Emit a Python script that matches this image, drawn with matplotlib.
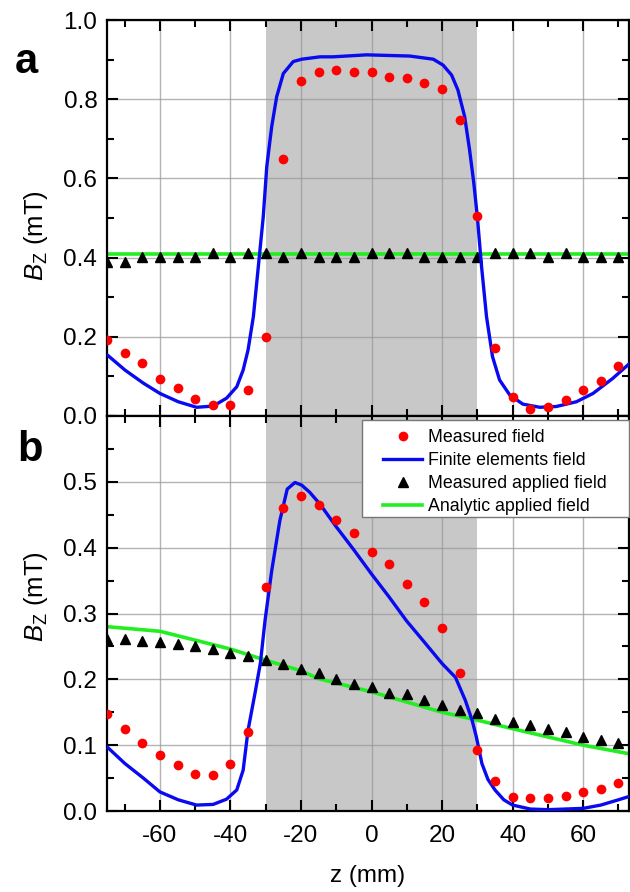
import matplotlib
matplotlib.use("Agg")
import matplotlib.pyplot as plt
from matplotlib.ticker import MultipleLocator, FormatStrFormatter
from matplotlib.patches import Rectangle

plt.rcParams['font.family'] = ['Liberation Sans', 'DejaVu Sans']
plt.rcParams['mathtext.fontset'] = 'custom'
plt.rcParams['mathtext.rm'] = 'Liberation Sans'
plt.rcParams['mathtext.it'] = 'Liberation Sans:italic'
plt.rcParams['axes.unicode_minus'] = False

# ---------------- data ----------------
z_meas = list(range(-75, 75, 5))

# Panel a
a_measured = [0.192, 0.160, 0.133, 0.093, 0.071, 0.044, 0.028, 0.028, 0.066, 0.199,
              0.649, 0.847, 0.869, 0.875, 0.869, 0.869, 0.857, 0.853, 0.842, 0.825,
              0.747, 0.506, 0.171, 0.049, 0.017, 0.023, 0.040, 0.066, 0.089, 0.126]
a_applied = [0.390, 0.390, 0.402, 0.402, 0.402, 0.402, 0.411, 0.402, 0.411, 0.411,
             0.402, 0.411, 0.402, 0.402, 0.402, 0.411, 0.411, 0.411, 0.402, 0.402,
             0.402, 0.402, 0.411, 0.411, 0.411, 0.402, 0.411, 0.402, 0.402, 0.402]
a_fe_z = [-74.9, -69.9, -64.7, -60.0, -54.8, -49.6, -44.9, -41.1, -38.2, -36.4, -35.0,
          -33.5, -32.1, -30.7, -29.7, -28.3, -26.9, -25.0, -22.2, -19.8, -14.6, -10.9,
          -1.4, 10.8, 17.5, 20.3, 22.7, 24.5, 26.4, 27.8, 29.0, 30.0, 31.2, 32.6, 34.3,
          36.3, 39.2, 42.9, 47.7, 52.4, 58.1, 62.8, 68.4, 73.2]
a_fe = [0.154, 0.116, 0.083, 0.057, 0.036, 0.022, 0.025, 0.045, 0.074, 0.116, 0.167,
        0.251, 0.377, 0.503, 0.630, 0.731, 0.806, 0.865, 0.895, 0.901, 0.907, 0.907,
        0.912, 0.909, 0.901, 0.886, 0.861, 0.823, 0.756, 0.672, 0.588, 0.503, 0.377,
        0.251, 0.150, 0.091, 0.053, 0.030, 0.022, 0.024, 0.036, 0.057, 0.095, 0.133]
a_analytic_z = [-75, 73]
a_analytic = [0.408, 0.408]

# Panel b
b_measured = [0.148, 0.124, 0.103, 0.085, 0.070, 0.056, 0.054, 0.071, 0.120, 0.341,
              0.461, 0.479, 0.465, 0.442, 0.422, 0.394, 0.375, 0.345, 0.318, 0.278,
              0.210, 0.092, 0.045, 0.022, 0.019, 0.020, 0.023, 0.029, 0.034, 0.042]
b_applied = [0.262, 0.262, 0.258, 0.256, 0.254, 0.250, 0.246, 0.240, 0.235, 0.230,
             0.224, 0.215, 0.209, 0.201, 0.193, 0.188, 0.180, 0.177, 0.168, 0.161,
             0.154, 0.149, 0.140, 0.135, 0.130, 0.125, 0.120, 0.113, 0.108, 0.104]
b_fe_z = [-74.9, -69.9, -64.7, -60.0, -54.8, -49.6, -44.9, -41.1, -38.2, -36.4, -35.0,
          -33.0, -31.5, -30.2, -28.3, -26.0, -23.9, -21.7, -19.8, -17.5, -14.6, -9.9,
          -5.2, 0.0, 5.0, 9.9, 14.9, 20.0, 23.8, 26.6, 28.5, 29.7, 31.3, 33.0, 35.0,
          37.5, 40.0, 45.0, 50.0, 55.0, 60.0, 65.0, 70.0, 73.0]
b_fe = [0.097, 0.072, 0.050, 0.029, 0.017, 0.009, 0.010, 0.018, 0.032, 0.062, 0.123,
        0.180, 0.225, 0.289, 0.365, 0.441, 0.489, 0.499, 0.495, 0.484, 0.466, 0.431,
        0.398, 0.360, 0.325, 0.289, 0.257, 0.224, 0.203, 0.168, 0.138, 0.113, 0.072,
        0.048, 0.032, 0.017, 0.009, 0.003, 0.002, 0.003, 0.004, 0.009, 0.017, 0.022]
b_analytic_z = [-75, -60, -40, -30, -20, -15, 0, 20, 30, 40, 60, 73]
b_analytic = [0.280, 0.273, 0.246, 0.229, 0.213, 0.201, 0.181, 0.150, 0.138, 0.125, 0.100, 0.087]

sample_region = (-30, 30)
x_ticks = [-60, -40, -20, 0, 20, 40, 60]

labels = ["Measured field", "Finite elements field", "Measured applied field", "Analytic applied field"]

# ---------------- figure ----------------
W, H = 630, 892
fig = plt.figure(figsize=(W / 100, H / 100), dpi=100)
L, R = 107 / W, 629 / W
ax_a = fig.add_axes([L, 1 - 416 / H, R - L, (416 - 20) / H])
ax_b = fig.add_axes([L, 1 - 811 / H, R - L, (811 - 416) / H])

red = '#ff0000'
blue = '#0a0af0'
green = '#22ee22'
tick_fs = 17.5

def style(ax, ymax, ymajor, yminor):
    ax.set_xlim(-75, 73)
    ax.set_ylim(0, ymax)
    ax.axvspan(*sample_region, color='#c8c8c8', zorder=0.1, lw=0)
    ax.set_axisbelow(True)
    ax.set_xticks(x_ticks)
    ax.xaxis.set_minor_locator(MultipleLocator(10))
    ax.yaxis.set_major_locator(MultipleLocator(ymajor))
    ax.yaxis.set_minor_locator(MultipleLocator(yminor))
    ax.yaxis.set_major_formatter(FormatStrFormatter('%.1f'))
    ax.grid(True, which='major', color='#9a9a9a', lw=1.0, alpha=0.75)
    ax.tick_params(which='both', direction='in', top=True, right=True, width=1.5,
                   labelsize=tick_fs)
    ax.tick_params(which='major', length=8)
    ax.tick_params(which='minor', length=5)
    ax.tick_params(axis='y', pad=7)
    ax.tick_params(axis='x', pad=10)
    for s in ax.spines.values():
        s.set_linewidth(1.6)

style(ax_a, 1.0, 0.2, 0.1)
style(ax_b, 0.6, 0.1, 0.05)

ms_dot = 7
ms_tri = 7.5

ax_a.plot(a_analytic_z, a_analytic, color=green, lw=2.6, zorder=2)
ax_a.plot(z_meas, a_applied, '^', color='black', ms=ms_tri, zorder=3)
ax_a.plot(a_fe_z, a_fe, color=blue, lw=2.4, zorder=4)
ax_a.plot(z_meas, a_measured, 'o', color=red, ms=ms_dot, mec='none', zorder=5)
ax_a.tick_params(labelbottom=False)
ax_a.set_yticks([0, 0.2, 0.4, 0.6, 0.8, 1.0])

h_green, = ax_b.plot(b_analytic_z, b_analytic, color=green, lw=2.6, zorder=2)
h_tri, = ax_b.plot(z_meas, b_applied, '^', color='black', ms=ms_tri, zorder=3)
h_blue, = ax_b.plot(b_fe_z, b_fe, color=blue, lw=2.4, zorder=4)
h_red, = ax_b.plot(z_meas, b_measured, 'o', color=red, ms=ms_dot, mec='none', zorder=5)
ax_b.set_yticks([0, 0.1, 0.2, 0.3, 0.4, 0.5])
ax_b.set_ylim(0, 0.6)

# legend box
box = Rectangle((362 / W, 1 - 517 / H), 267 / W, 97 / H, transform=fig.transFigure,
                facecolor='white', edgecolor='#777777', lw=1.0, zorder=6, clip_on=False)
ax_b.add_patch(box)
leg = ax_b.legend([h_red, h_blue, h_tri, h_green], labels, loc='upper left',
                  bbox_to_anchor=(383 / W, 1 - 429 / H), bbox_transform=fig.transFigure,
                  borderaxespad=0, borderpad=0, fontsize=12.8, frameon=False,
                  handlelength=2.2, handletextpad=0.35, labelspacing=0.34)
leg.set_zorder(7)

ylab = r'$B_\mathrm{Z}$ (mT)'
ax_a.set_ylabel(ylab, fontsize=18.5)
ax_b.set_ylabel(ylab, fontsize=18.5)
ax_a.yaxis.set_label_coords(-0.109, 0.455)
ax_b.yaxis.set_label_coords(-0.109, 0.543)
ax_b.set_xlabel('z (mm)', fontsize=17.5)
ax_b.xaxis.set_label_coords(0.5, (811 - 865) / 396)

fig.text(26 / W, 1 - 62 / H, 'a', fontsize=30, fontweight='bold', ha='center', va='center')
fig.text(30 / W, 1 - 450 / H, 'b', fontsize=30, fontweight='bold', ha='center', va='center')

fig.savefig('out.png', dpi=100)
